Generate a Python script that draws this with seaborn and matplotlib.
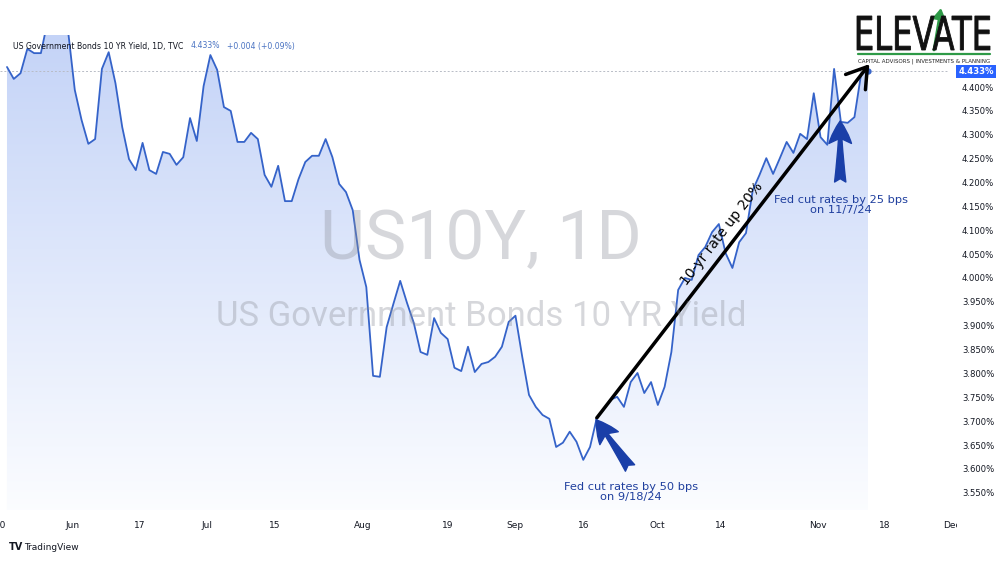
import numpy as np
import seaborn as sns
import matplotlib.pyplot as plt
from matplotlib.textpath import TextPath
from matplotlib.font_manager import FontProperties
from matplotlib.patches import PathPatch
from matplotlib.transforms import Affine2D, Bbox

# daily closes of the US 10Y yield (%), one per trading day, May 21 -> Nov 13 2024
yields = [
    4.442, 4.417, 4.429, 4.480, 4.471, 4.471, 4.538, 4.600, 4.540, 4.519,
    4.394, 4.331, 4.281, 4.291, 4.438, 4.473, 4.408, 4.316, 4.249, 4.226,
    4.283, 4.226, 4.218, 4.264, 4.260, 4.237, 4.253, 4.335, 4.287, 4.402,
    4.467, 4.436, 4.358, 4.350, 4.285, 4.285, 4.304, 4.291, 4.216, 4.191,
    4.235, 4.161, 4.161, 4.207, 4.243, 4.256, 4.256, 4.291, 4.253, 4.197,
    4.180, 4.142, 4.038, 3.981, 3.795, 3.793, 3.897, 3.946, 3.994, 3.948,
    3.906, 3.845, 3.839, 3.916, 3.885, 3.872, 3.812, 3.805, 3.856, 3.803,
    3.820, 3.824, 3.835, 3.856, 3.908, 3.921, 3.835, 3.755, 3.730, 3.713,
    3.705, 3.646, 3.655, 3.678, 3.657, 3.619, 3.646, 3.707, 3.724, 3.745,
    3.751, 3.730, 3.782, 3.801, 3.759, 3.782, 3.734, 3.772, 3.845, 3.975,
    4.000, 3.996, 4.048, 4.065, 4.096, 4.113, 4.052, 4.021, 4.075, 4.094,
    4.184, 4.216, 4.251, 4.218, 4.251, 4.285, 4.262, 4.302, 4.291, 4.387,
    4.295, 4.279, 4.438, 4.327, 4.325, 4.337, 4.429, 4.433,
]
bars = np.arange(len(yields))

# time axis labels (bar index where each date label sits)
date_labels = ['20', 'Jun', '17', 'Jul', '15', 'Aug', '19', 'Sep', '16', 'Oct', '14', 'Nov', '18']
date_pos = [-0.95, 9.6, 19.6, 29.5, 39.5, 52.4, 65.0, 74.9, 85.1, 95.9, 105.2, 119.6, 129.4]
dec_pos = 139.4

price_ticks = [3.55, 3.60, 3.65, 3.70, 3.75, 3.80, 3.85, 3.90, 3.95, 4.00,
               4.05, 4.10, 4.15, 4.20, 4.25, 4.30, 4.35, 4.40]
last_price = 4.433

fed_cut_sep = 87    # bar of 9/18/24
fed_cut_nov = 123   # bar of 11/7/24

sns.set_style('white')
plt.rcParams['font.family'] = ['DejaVu Sans']

W, H = 1000, 561
fig = plt.figure(figsize=(10, 5.61), dpi=100)
ax = fig.add_axes([0, 1 - 510 / H, 948 / W, (510 - 35) / H])

line_color = '#3563c9'
xmin, xmax = -1.03, 138.8
ymin, ymax = 3.514, 4.509

sns.lineplot(x=bars, y=yields, ax=ax, color=line_color, lw=1.3, zorder=3)
ax.plot(bars[-1], yields[-1], 'o', color=line_color, ms=3.5, zorder=4)

# gradient area under the line
poly = ax.fill_between(bars, yields, ymin, facecolor='none', edgecolor='none')
top_c = np.array([0.77, 0.83, 0.97])
bot_c = np.array([0.985, 0.99, 1.0])
t = np.linspace(0, 1, 256)[:, None]
grad = (top_c * (1 - t) + bot_c * t)[:, None, :]
grad = np.repeat(grad, 2, axis=1)
im = ax.imshow(grad, extent=[xmin, xmax, ymin, ymax], aspect='auto', zorder=1)
im.set_clip_path(poly.get_paths()[0], transform=ax.transData)

# last price line
ax.axhline(last_price, color='#b8bcc6', lw=0.7, ls=(0, (2, 2)), zorder=2)

ax.set_xlim(xmin, xmax)
ax.set_ylim(ymin, ymax)
for s in ax.spines.values():
    s.set_visible(False)

ax.yaxis.tick_right()
ax.set_yticks(price_ticks)
ax.set_yticklabels([f'{p:.3f}%' for p in price_ticks])
ax.tick_params(axis='y', length=0, pad=10, labelsize=6.1, labelcolor='#131722')
ax.set_xticks(date_pos)
ax.set_xticklabels(date_labels)
ax.tick_params(axis='x', length=0, pad=8, labelsize=6.5, labelcolor='#131722')
ax.set_xlabel('')
ax.set_ylabel('')

dec = ax.text(dec_pos, -0.0235, 'Dec', transform=ax.get_xaxis_transform(), ha='center',
              va='top', fontsize=6.5, color='#131722', clip_on=True)
dec.set_clip_box(Bbox([[0, 0], [957, H]]))

# price label on the scale
ax.text(1.011, last_price, f'{last_price:.3f}%', transform=ax.get_yaxis_transform(),
        ha='left', va='center', fontsize=6.1, color='white', fontweight='bold',
        bbox=dict(boxstyle='square,pad=0.25', fc='#2962ff', ec='none'), clip_on=False)

# watermark
wm = (0.55, 0.56, 0.6)
fig.text(481 / W, 1 - 240 / H, 'US10Y, 1D', ha='center', va='center',
         fontsize=50, family='Roboto', color=wm, alpha=0.35)
fig.text(481 / W, 1 - 316 / H, 'US Government Bonds 10 YR Yield', ha='center', va='center',
         fontsize=25, family='Roboto', color=wm, alpha=0.35)

# header
fig.canvas.draw()
rend = fig.canvas.get_renderer()
hx = 13
for txt, col in [('US Government Bonds 10 YR Yield, 1D, TVC', '#131722'),
                 (f'{last_price:.3f}%', '#4a73c2'),
                 ('+0.004 (+0.09%)', '#4a73c2')]:
    h = fig.text(hx / W, 1 - 46 / H, txt, ha='left', va='center', fontsize=5.6, color=col)
    hx = h.get_window_extent(rend).x1 + 7

# black trend arrow
ax.annotate('', xy=(127.2, 4.448), xytext=(fed_cut_sep, yields[fed_cut_sep]),
            arrowprops=dict(arrowstyle='->,head_length=0.7,head_width=0.45', lw=2.5,
                            color='black', shrinkA=0, shrinkB=0, mutation_scale=20),
            zorder=5)
ax.text(105.5, 4.092, '10-yr rate up 20%', rotation=52.4, rotation_mode='anchor',
        ha='center', va='center', fontsize=10, color='black', zorder=6)

# Fed cut arrows and notes
note_c = '#1f3f9e'
ax.annotate('', xy=(fed_cut_sep - 0.1, 3.703), xytext=(91.9, 3.602),
            arrowprops=dict(arrowstyle='fancy,head_length=0.9,head_width=0.9,tail_width=0.45',
                            color='#1a3fa8', shrinkA=0, shrinkB=0, mutation_scale=18),
            zorder=6)
ax.text(92.0, 3.552, 'Fed cut rates by 50 bps\non 9/18/24', ha='center', va='center',
        fontsize=8.2, color=note_c, linespacing=1.05, zorder=6)
ax.annotate('', xy=(fed_cut_nov - 0.1, 4.329), xytext=(fed_cut_nov - 0.1, 4.201),
            arrowprops=dict(arrowstyle='fancy,head_length=0.9,head_width=0.9,tail_width=0.45',
                            color='#1a3fa8', shrinkA=0, shrinkB=0, mutation_scale=18),
            zorder=6)
ax.text(fed_cut_nov, 4.153, 'Fed cut rates by 25 bps\non 11/7/24', ha='center', va='center',
        fontsize=8.2, color=note_c, linespacing=1.05, zorder=6)

# logo
pix = Affine2D().scale(1 / W, 1 / H) + fig.transFigure
tp = TextPath((0, 0), 'ELEVATE', size=100, prop=FontProperties(family='DejaVu Sans'))
bb = tp.get_extents()
tr = Affine2D().translate(-bb.x0, -bb.y0).scale((990 - 857) / bb.width, (50 - 16) / bb.height) \
    .translate(857, H - 50)
fig.add_artist(PathPatch(tr.transform_path(tp), fc='#111111', ec='#111111', lw=0.6, transform=pix))
fig.add_artist(plt.Line2D([858 / W, 990 / W], [1 - 54 / H, 1 - 54 / H], color='#2e9a47', lw=1.6))
fig.text(924 / W, 1 - 61 / H, 'CAPITAL ADVISORS | INVESTMENTS & PLANNING', ha='center',
         va='center', fontsize=4, color='#222222')
ax.annotate('', xy=(941 / W, 1 - 8 / H), xytext=(934 / W, 1 - 50 / H), xycoords='figure fraction',
            arrowprops=dict(arrowstyle='-|>,head_length=0.5,head_width=0.3', color='#2e9a47',
                            lw=2, shrinkA=0, shrinkB=0, mutation_scale=12))

# footer
fig.text(9 / W, 1 - 547 / H, 'TV', ha='left', va='center', fontsize=7, fontweight='bold',
         color='#131722')
fig.text(24 / W, 1 - 547 / H, 'TradingView', ha='left', va='center', fontsize=6.5,
         color='#131722')

fig.savefig('out.png', dpi=100, facecolor='white')
